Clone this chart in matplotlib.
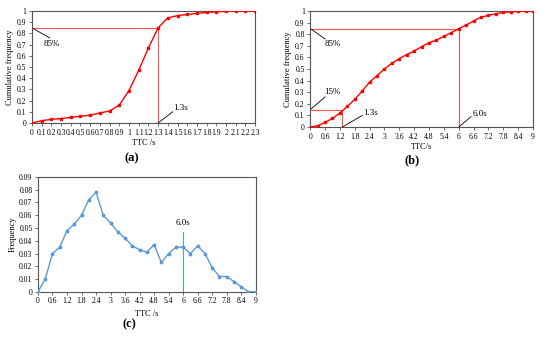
import matplotlib.pyplot as plt
import numpy as np

plt.rcParams['font.family'] = ['Liberation Serif', 'DejaVu Serif']

# === data ===
ttc_a = [round(0.1 * i, 1) for i in range(24)]
cum_a = [0, 0.02, 0.033, 0.04, 0.05, 0.06, 0.07, 0.09, 0.107, 0.16, 0.29, 0.47,
         0.67, 0.85, 0.94, 0.96, 0.97, 0.98, 0.988, 0.995, 0.997, 1, 1, 1]
ticks_a = [round(0.1 * i, 1) for i in range(24)]
ticklab_a = ["0"] + ["%g" % t for t in ticks_a[1:]]

ttc_b = [round(0.3 * i, 1) for i in range(31)]
cum_b = [0, 0.011, 0.04, 0.075, 0.12, 0.178, 0.238, 0.31, 0.387, 0.444, 0.50,
         0.55, 0.59, 0.625, 0.656, 0.693, 0.728, 0.75, 0.782, 0.814, 0.848,
         0.88, 0.914, 0.948, 0.963, 0.977, 0.989, 0.994, 0.997, 1, 1]
freq_c = [0, 0.01, 0.03, 0.035, 0.048, 0.053, 0.06, 0.072, 0.078, 0.06, 0.054,
          0.047, 0.042, 0.036, 0.033, 0.031, 0.037, 0.023, 0.030, 0.035, 0.035,
          0.030, 0.036, 0.030, 0.019, 0.012, 0.012, 0.008, 0.004, 0, 0]
ticks_bc = [round(0.6 * i, 1) for i in range(16)]
yticks_cum = ["0", "0.1", "0.2", "0.3", "0.4", "0.5", "0.6", "0.7", "0.8", "0.9", "1"]

red = "#ff0000"
guide = "#ff5050"
blue = "#5b9bd5"
spine = "#555555"

fig = plt.figure(figsize=(5.5, 3.37), dpi=100)

def style(ax):
    for s in ax.spines.values():
        s.set_color(spine)
        s.set_linewidth(0.8)
    ax.tick_params(labelsize=5.5, length=2, width=0.6, color=spine, pad=2)

# === (a) ===
ax = fig.add_axes([0.058, 0.635, 0.406, 0.332])
ax.plot(ttc_a, cum_a, color=red, lw=1.0, marker="s", ms=2.0, zorder=3)
ax.plot([0, 1.3], [0.85, 0.85], color=guide, lw=0.8)
ax.plot([1.3, 1.3], [0, 0.85], color=guide, lw=0.8)
ax.plot([0, 0.186], [0.85, 0.76], color="black", lw=0.6)
ax.text(0.21, 0.71, "85%", fontsize=6.5, ha="center", va="center")
ax.plot([1.3, 1.45], [0, 0.1], color="black", lw=0.6)
ax.text(1.53, 0.13, "1.3s", fontsize=6.5, ha="center", va="center")
ax.set_xlim(0, 2.3)
ax.set_ylim(0, 1)
ax.set_xticks(ticks_a)
ax.set_xticklabels(ticklab_a)
ax.set_yticks(np.round(np.arange(0, 1.01, 0.1), 1))
ax.set_yticklabels(yticks_cum)
ax.set_xlabel("TTC /s", fontsize=6, labelpad=2)
ax.set_ylabel("Cumulative frequency", fontsize=6, labelpad=2)
style(ax)
fig.text(0.24, 0.52, "(a)", fontsize=9, fontweight="bold", ha="center")

# === (b) ===
ax = fig.add_axes([0.564, 0.623, 0.405, 0.344])
ax.plot(ttc_b, cum_b, color=red, lw=1.0, marker="s", ms=2.0, zorder=3)
ax.plot([0, 6], [0.85, 0.85], color=guide, lw=0.8)
ax.plot([6, 6], [0, 0.85], color=guide, lw=0.8)
ax.plot([0, 1.3], [0.15, 0.15], color=guide, lw=0.8)
ax.plot([1.3, 1.3], [0, 0.15], color=guide, lw=0.8)
ax.plot([0, 0.6], [0.85, 0.76], color="black", lw=0.6)
ax.text(0.9, 0.715, "85%", fontsize=6.5, ha="center", va="center")
ax.plot([0, 0.6], [0.15, 0.26], color="black", lw=0.6)
ax.text(0.9, 0.30, "15%", fontsize=6.5, ha="center", va="center")
ax.plot([1.3, 2.1], [0, 0.1], color="black", lw=0.6)
ax.text(2.45, 0.12, "1.3s", fontsize=6.5, ha="center", va="center")
ax.plot([6, 6.5], [0, 0.09], color="black", lw=0.6)
ax.text(6.85, 0.11, "6.0s", fontsize=6.5, ha="center", va="center")
ax.set_xlim(0, 9)
ax.set_ylim(0, 1)
ax.set_xticks(ticks_bc)
ax.set_xticklabels(["%g" % t for t in ticks_bc])
ax.set_yticks(np.round(np.arange(0, 1.01, 0.1), 1))
ax.set_yticklabels(yticks_cum)
ax.set_xlabel("TTC/s", fontsize=6, labelpad=1.5)
ax.set_ylabel("Cumulative frequency", fontsize=6, labelpad=2)
style(ax)
fig.text(0.75, 0.515, "(b)", fontsize=9, fontweight="bold", ha="center")

# === (c) ===
ax = fig.add_axes([0.069, 0.134, 0.396, 0.341])
ax.plot(ttc_b, freq_c, color=blue, lw=1.0, marker="o", ms=1.8, zorder=3)
ax.plot([6, 6], [0, 0.047], color=blue, lw=0.8)
ax.text(6, 0.0505, "6.0s", fontsize=6.5, ha="center", va="bottom")
ax.set_xlim(0, 9)
ax.set_ylim(0, 0.09)
ax.set_xticks(ticks_bc)
ax.set_xticklabels(["%g" % t for t in ticks_bc])
ax.set_yticks(np.round(np.arange(0, 0.0901, 0.01), 2))
ax.set_yticklabels(["0"] + ["%.2f" % v for v in np.arange(0.01, 0.0901, 0.01)])
ax.set_xlabel("TTC /s", fontsize=6, labelpad=3)
ax.set_ylabel("Frequency", fontsize=6, labelpad=2)
style(ax)
fig.text(0.235, 0.03, "(c)", fontsize=9, fontweight="bold", ha="center")

plt.savefig("out.png", dpi=100)
